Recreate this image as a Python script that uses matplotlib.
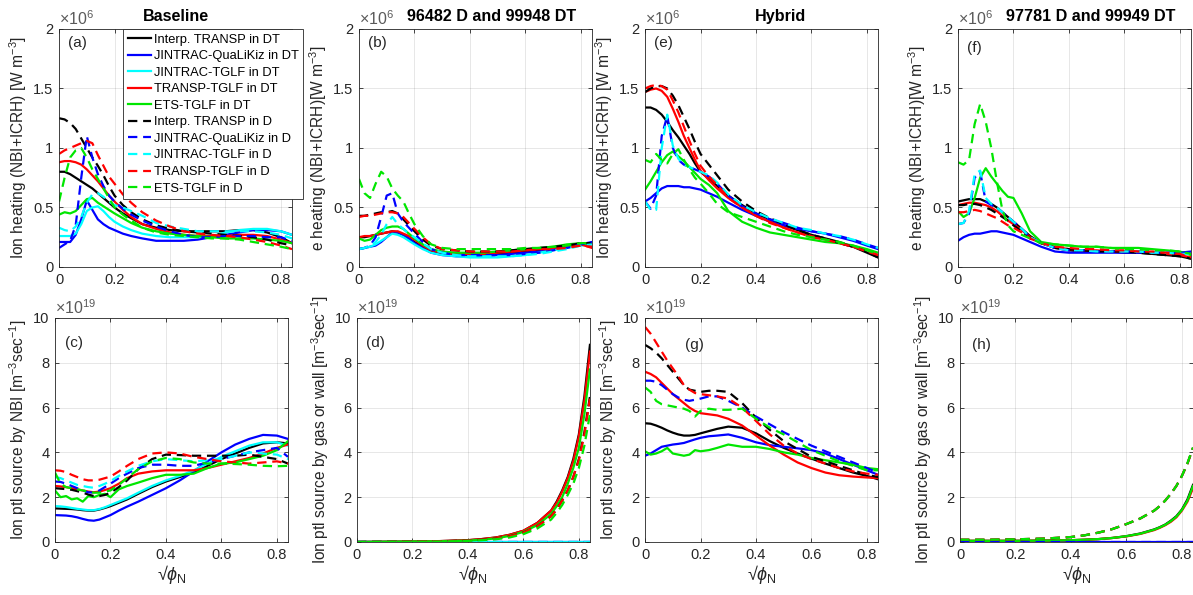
import numpy as np
import matplotlib
matplotlib.use("Agg")
import matplotlib.pyplot as plt
from matplotlib.ticker import FuncFormatter

plt.rcParams['font.family'] = ['Liberation Sans', 'DejaVu Sans']
plt.rcParams['mathtext.fontset'] = 'custom'
plt.rcParams['mathtext.rm'] = 'Liberation Sans'
plt.rcParams['mathtext.it'] = 'Liberation Sans:italic'

# ---------------- data ----------------
# common radial grid (sqrt(phi_N)) for profiles
X = [0, .02, .04, .06, .08, .10, .12, .14, .16, .18, .20, .23, .26, .30, .35,
     .40, .45, .50, .55, .60, .65, .70, .75, .80, .84]
# grid for edge sources (panels d, h)
XE = [0, .1, .2, .3, .4, .45, .5, .55, .6, .65, .7, .72, .74, .76, .78, .8, .82, .84]

labels = ["Interp. TRANSP in DT", "JINTRAC-QuaLiKiz in DT", "JINTRAC-TGLF in DT",
          "TRANSP-TGLF in DT", "ETS-TGLF in DT",
          "Interp. TRANSP in D", "JINTRAC-QuaLiKiz in D", "JINTRAC-TGLF in D",
          "TRANSP-TGLF in D", "ETS-TGLF in D"]

# (a) Baseline ion heating [1e6 W m^-3]
a_black_DT = [.80, .80, .78, .75, .72, .69, .66, .62, .58, .54, .50, .45, .41, .36, .33, .31, .30, .30, .30, .30, .31, .31, .29, .25, .20]
a_blue_DT = [.21, .21, .21, .27, .40, .56, .48, .40, .36, .33, .31, .28, .26, .24, .22, .22, .22, .23, .25, .27, .29, .31, .31, .30, .27]
a_cyan_DT = [.26, .26, .26, .28, .36, .47, .50, .51, .47, .42, .38, .34, .31, .28, .26, .25, .25, .25, .26, .29, .31, .32, .32, .30, .27]
a_red_DT = [.88, .89, .89, .88, .86, .82, .77, .72, .66, .60, .55, .48, .42, .36, .32, .29, .27, .26, .26, .26, .27, .27, .26, .23, .20]
a_green_DT = [.44, .46, .45, .47, .52, .57, .58, .54, .51, .48, .45, .41, .37, .33, .30, .28, .27, .26, .25, .24, .24, .24, .23, .22, .20]
a_black_D = [1.25, 1.24, 1.21, 1.16, 1.08, 1.00, .92, .85, .77, .68, .60, .52, .46, .40, .35, .32, .30, .29, .28, .27, .26, .25, .23, .20, .18]
a_blue_D = [.16, .19, .22, .35, .75, 1.10, .92, .78, .68, .60, .55, .49, .44, .39, .34, .30, .27, .25, .25, .26, .26, .26, .25, .25, .22]
a_cyan_D = [.33, .31, .30, .34, .42, .54, .61, .62, .59, .55, .52, .50, .47, .43, .37, .34, .32, .30, .30, .30, .30, .30, .29, .27, .24]
a_red_D = [.95, .98, 1.00, 1.02, 1.04, 1.06, 1.04, .94, .85, .76, .70, .61, .54, .46, .39, .34, .30, .28, .27, .26, .25, .23, .21, .18, .15]
a_green_D = [.55, .75, .92, .98, 1.00, .92, .82, .74, .66, .58, .50, .44, .39, .33, .29, .27, .26, .25, .24, .24, .23, .21, .19, .17, .15]

# (b) Baseline electron heating [1e6 W m^-3]
b_black_DT = [.25, .25, .26, .27, .28, .29, .30, .29, .27, .24, .21, .17, .13, .11, .10, .10, .10, .11, .12, .13, .14, .15, .17, .19, .19]
b_blue_DT = [.15, .16, .17, .18, .21, .25, .29, .29, .27, .24, .20, .16, .12, .10, .09, .09, .09, .10, .11, .12, .13, .15, .17, .19, .21]
b_cyan_DT = [.15, .16, .17, .19, .22, .25, .28, .27, .25, .22, .19, .15, .12, .10, .09, .08, .08, .08, .09, .10, .12, .14, .16, .18, .19]
b_red_DT = [.25, .26, .26, .27, .28, .29, .30, .30, .28, .26, .23, .18, .14, .12, .11, .11, .11, .12, .13, .14, .15, .16, .18, .19, .16]
b_green_DT = [.24, .22, .23, .27, .31, .33, .34, .34, .32, .28, .24, .19, .15, .13, .12, .12, .12, .13, .14, .15, .16, .17, .19, .20, .20]
b_black_D = [.43, .43, .44, .45, .46, .46, .47, .45, .40, .35, .30, .23, .18, .15, .14, .13, .13, .13, .14, .15, .16, .17, .18, .20, .20]
b_blue_D = [.15, .16, .18, .25, .42, .60, .62, .45, .38, .33, .28, .21, .15, .12, .10, .10, .10, .10, .10, .11, .12, .14, .16, .19, .21]
b_cyan_D = [.15, .16, .18, .21, .27, .36, .42, .36, .32, .28, .25, .20, .15, .12, .10, .09, .09, .09, .09, .10, .11, .13, .15, .18, .19]
b_red_D = [.42, .43, .43, .44, .45, .46, .46, .45, .42, .37, .32, .25, .19, .15, .14, .13, .13, .13, .13, .14, .15, .15, .16, .18, .17]
b_green_D = [.74, .62, .58, .70, .80, .76, .66, .60, .55, .45, .36, .26, .19, .16, .15, .15, .15, .15, .15, .16, .16, .17, .18, .20, .20]

# (e) Hybrid ion heating [1e6 W m^-3]
e_black_DT = [1.34, 1.34, 1.32, 1.28, 1.22, 1.15, 1.09, 1.02, .95, .87, .80, .74, .68, .60, .52, .45, .40, .35, .31, .27, .24, .21, .17, .12, .08]
e_blue_DT = [.55, .58, .62, .66, .68, .68, .68, .67, .67, .66, .65, .62, .59, .54, .48, .43, .38, .35, .32, .30, .28, .25, .22, .18, .15]
e_red_DT = [1.47, 1.49, 1.50, 1.48, 1.43, 1.33, 1.22, 1.10, 1.00, .90, .81, .73, .66, .58, .50, .43, .38, .33, .29, .26, .23, .20, .17, .14, .10]
e_green_DT = [.65, .72, .80, .88, .94, .97, .93, .89, .84, .79, .74, .69, .62, .47, .38, .33, .29, .27, .25, .23, .21, .20, .18, .15, .12]
e_black_D = [1.47, 1.50, 1.52, 1.52, 1.50, 1.44, 1.36, 1.26, 1.16, 1.05, .95, .86, .77, .65, .55, .47, .41, .36, .31, .27, .24, .20, .17, .13, .08]
e_blue_D = [.55, .49, .60, 1.10, 1.27, 1.00, .90, .86, .84, .82, .80, .76, .70, .60, .51, .45, .40, .37, .33, .30, .28, .26, .23, .19, .16]
e_cyan_D = [.55, .48, .48, 1.00, 1.28, 1.02, .91, .86, .84, .82, .80, .77, .71, .61, .52, .46, .41, .37, .33, .31, .28, .26, .23, .19, .16]
e_red_D = [1.50, 1.52, 1.53, 1.52, 1.49, 1.40, 1.30, 1.18, 1.06, .95, .85, .76, .69, .58, .50, .43, .37, .33, .29, .25, .23, .20, .17, .13, .10]
e_green_D = [.90, .88, .95, .90, .87, .95, .99, .90, .82, .75, .70, .62, .53, .46, .42, .38, .34, .30, .27, .25, .23, .21, .18, .14, .11]

# (f) Hybrid electron heating [1e6 W m^-3]
f_black_DT = [.55, .56, .57, .57, .57, .55, .53, .50, .46, .42, .38, .32, .26, .20, .16, .14, .13, .13, .13, .12, .12, .11, .10, .09, .07]
f_blue_DT = [.22, .25, .27, .28, .28, .29, .30, .30, .29, .28, .27, .24, .21, .17, .13, .12, .12, .12, .12, .12, .12, .12, .12, .12, .13]
f_red_DT = [.52, .53, .54, .54, .53, .52, .50, .47, .43, .39, .36, .31, .25, .20, .17, .15, .14, .14, .13, .13, .13, .12, .11, .10, .08]
f_green_DT = [.47, .42, .45, .58, .75, .83, .76, .70, .64, .59, .58, .45, .30, .21, .19, .18, .17, .17, .16, .16, .16, .15, .14, .13, .10]
f_black_D = [.52, .52, .53, .53, .52, .50, .48, .45, .42, .39, .35, .30, .24, .20, .16, .15, .14, .13, .13, .13, .12, .11, .10, .09, .07]
f_blue_D = [.36, .37, .45, .75, .80, .55, .52, .50, .46, .42, .38, .32, .25, .20, .16, .14, .14, .13, .13, .13, .13, .12, .12, .12, .12]
f_cyan_D = [.36, .37, .47, .78, .81, .58, .53, .50, .46, .42, .38, .32, .25, .20, .16, .14, .14, .13, .13, .13, .13, .12, .12, .11, .11]
f_red_D = [.46, .46, .47, .48, .47, .45, .43, .41, .38, .35, .33, .29, .24, .20, .17, .16, .15, .15, .14, .14, .13, .13, .12, .11, .08]
f_green_D = [.88, .86, .90, 1.20, 1.37, 1.22, 1.00, .72, .48, .35, .30, .27, .24, .20, .19, .18, .17, .17, .16, .15, .15, .14, .14, .13, .11]

# (c) Baseline NBI particle source [1e19 m^-3 s^-1]
c_black_DT = [1.50, 1.49, 1.48, 1.47, 1.45, 1.42, 1.40, 1.40, 1.45, 1.52, 1.60, 1.75, 1.90, 2.15, 2.45, 2.70, 2.90, 3.10, 3.40, 3.70, 3.95, 4.20, 4.40, 4.45, 4.40]
c_blue_DT = [1.20, 1.19, 1.18, 1.15, 1.10, 1.03, .97, .95, 1.00, 1.10, 1.20, 1.40, 1.58, 1.80, 2.10, 2.40, 2.75, 3.15, 3.60, 4.00, 4.35, 4.60, 4.78, 4.75, 4.60]
c_cyan_DT = [1.60, 1.59, 1.56, 1.52, 1.48, 1.45, 1.42, 1.42, 1.47, 1.55, 1.65, 1.80, 1.95, 2.20, 2.50, 2.75, 2.95, 3.20, 3.50, 3.80, 4.05, 4.30, 4.45, 4.45, 4.30]
c_red_DT = [2.50, 2.48, 2.45, 2.40, 2.35, 2.30, 2.25, 2.22, 2.25, 2.32, 2.40, 2.60, 2.85, 3.05, 3.15, 3.20, 3.20, 3.20, 3.30, 3.45, 3.60, 3.75, 3.95, 4.20, 4.35]
c_green_DT = [2.30, 2.00, 2.05, 1.90, 1.95, 1.80, 2.05, 2.00, 2.10, 2.15, 2.00, 2.35, 2.50, 2.65, 2.85, 3.00, 3.00, 3.05, 3.30, 3.50, 3.55, 3.70, 3.85, 4.10, 4.50]
c_black_D = [2.40, 2.38, 2.36, 2.33, 2.27, 2.20, 2.12, 2.05, 2.05, 2.10, 2.20, 2.45, 2.75, 3.25, 3.70, 3.90, 3.88, 3.85, 3.85, 3.85, 3.85, 3.90, 3.80, 3.70, 3.50]
c_blue_D = [2.70, 2.68, 2.60, 2.50, 2.40, 2.30, 2.22, 2.20, 2.30, 2.45, 2.60, 2.85, 3.05, 3.30, 3.45, 3.45, 3.40, 3.40, 3.55, 3.70, 3.85, 4.00, 4.10, 4.20, 3.80]
c_cyan_D = [2.90, 2.85, 2.75, 2.65, 2.55, 2.50, 2.45, 2.42, 2.50, 2.60, 2.72, 2.95, 3.15, 3.40, 3.60, 3.70, 3.65, 3.60, 3.65, 3.70, 3.85, 4.00, 3.95, 3.90, 3.70]
c_red_D = [3.20, 3.18, 3.12, 3.00, 2.90, 2.80, 2.75, 2.75, 2.78, 2.85, 2.92, 3.15, 3.40, 3.70, 3.95, 4.00, 3.95, 3.80, 3.70, 3.60, 3.55, 3.50, 3.55, 3.60, 3.50]
c_green_D = [3.10, 2.60, 2.45, 2.40, 2.35, 2.30, 2.25, 2.20, 2.20, 2.25, 2.30, 2.55, 2.85, 3.25, 3.60, 3.75, 3.70, 3.55, 3.50, 3.50, 3.48, 3.45, 3.40, 3.38, 3.40]

# (g) Hybrid NBI particle source [1e19 m^-3 s^-1]
g_black_DT = [5.30, 5.28, 5.20, 5.10, 4.98, 4.88, 4.80, 4.75, 4.75, 4.78, 4.85, 4.95, 5.05, 5.15, 5.10, 4.85, 4.50, 4.20, 3.95, 3.72, 3.50, 3.30, 3.10, 2.95, 2.80]
g_blue_DT = [3.85, 3.95, 4.10, 4.25, 4.30, 4.35, 4.38, 4.42, 4.50, 4.58, 4.65, 4.72, 4.75, 4.80, 4.65, 4.45, 4.32, 4.25, 4.18, 4.10, 3.95, 3.70, 3.45, 3.20, 3.00]
g_red_DT = [7.60, 7.50, 7.35, 7.10, 6.85, 6.60, 6.40, 6.20, 6.00, 5.85, 5.75, 5.70, 5.65, 5.50, 5.20, 4.75, 4.30, 3.90, 3.55, 3.30, 3.10, 2.98, 2.92, 2.88, 2.85]
g_green_DT = [4.05, 3.90, 3.95, 4.05, 4.20, 3.95, 3.90, 3.85, 3.90, 4.10, 4.05, 4.10, 4.20, 4.35, 4.25, 4.25, 4.15, 4.00, 3.90, 3.75, 3.65, 3.55, 3.45, 3.30, 3.25]
g_black_D = [8.80, 8.65, 8.45, 8.20, 7.90, 7.60, 7.30, 7.00, 6.80, 6.75, 6.70, 6.75, 6.75, 6.70, 6.20, 5.55, 5.00, 4.50, 4.15, 3.80, 3.60, 3.40, 3.20, 3.00, 2.90]
g_blue_D = [7.20, 7.20, 7.15, 7.00, 6.80, 6.60, 6.45, 6.35, 6.30, 6.35, 6.40, 6.50, 6.50, 6.30, 6.00, 5.60, 5.25, 4.90, 4.60, 4.30, 4.05, 3.80, 3.55, 3.30, 3.10]
g_red_D = [9.60, 9.30, 8.90, 8.50, 8.10, 7.75, 7.40, 7.00, 6.80, 6.65, 6.60, 6.55, 6.50, 6.40, 6.00, 5.40, 4.80, 4.30, 3.95, 3.70, 3.50, 3.30, 3.15, 3.05, 3.00]
g_green_D = [6.90, 6.70, 6.30, 6.15, 6.10, 6.05, 6.00, 5.95, 5.85, 5.60, 5.85, 5.95, 5.90, 5.90, 5.95, 5.50, 5.10, 4.80, 4.45, 4.10, 3.85, 3.60, 3.40, 3.20, 3.20]

# (d) Baseline gas/wall source [1e19 m^-3 s^-1]
d_black_DT = [0, .01, .02, .04, .08, .13, .20, .32, .50, .85, 1.40, 1.80, 2.30, 2.90, 3.70, 4.80, 6.50, 8.80]
d_blue_DT = [0] * 18
d_cyan_DT = [0] * 18
d_red_DT = [0, .01, .02, .04, .08, .13, .20, .32, .50, .85, 1.40, 1.75, 2.25, 2.85, 3.60, 4.70, 6.30, 8.50]
d_green_DT = [0, .01, .02, .03, .06, .10, .16, .27, .45, .75, 1.25, 1.60, 2.00, 2.60, 3.30, 4.20, 5.70, 7.70]
d_black_D = [0, .01, .02, .03, .06, .10, .15, .25, .42, .70, 1.15, 1.45, 1.85, 2.30, 2.90, 3.70, 4.90, 6.50]
d_blue_D = [0] * 18
d_cyan_D = [0] * 18
d_red_D = [0, .01, .02, .03, .06, .10, .15, .25, .42, .70, 1.15, 1.45, 1.85, 2.30, 2.90, 3.65, 4.80, 6.40]
d_green_D = [0, .01, .01, .02, .05, .08, .12, .20, .35, .60, 1.00, 1.30, 1.65, 2.10, 2.60, 3.30, 4.30, 5.70]

# (h) Hybrid gas/wall source [1e19 m^-3 s^-1]
h_black_DT = [.05, .05, .05, .06, .08, .10, .13, .18, .26, .38, .56, .66, .78, .95, 1.15, 1.45, 1.90, 2.55]
h_blue_DT = [0] * 18
h_red_DT = [.05, .05, .05, .06, .08, .10, .13, .18, .25, .36, .53, .63, .75, .90, 1.10, 1.40, 1.80, 2.40]
h_green_DT = [.05, .05, .05, .06, .08, .10, .13, .18, .26, .37, .55, .65, .77, .93, 1.13, 1.43, 1.85, 2.50]
h_black_D = [.10, .10, .12, .15, .22, .30, .42, .58, .80, 1.05, 1.40, 1.60, 1.85, 2.15, 2.50, 2.95, 3.50, 4.20]
h_blue_D = [0] * 18
h_red_D = [.10, .10, .12, .15, .22, .30, .42, .58, .80, 1.05, 1.40, 1.60, 1.85, 2.15, 2.50, 2.95, 3.50, 4.20]
h_green_D = [.10, .10, .12, .15, .22, .30, .42, .58, .80, 1.05, 1.40, 1.60, 1.85, 2.15, 2.50, 2.95, 3.52, 4.22]

# ---------------- style ----------------
COLORS = ['#000000', '#0000ff', '#00ffff', '#ff0000', '#00e600']
DASH = (0, (4.2, 2.6))
LW = 1.6
AXC = '#262626'

fig = plt.figure(figsize=(11.93, 5.95), dpi=100)

W = 0.1953
TOP_B, TOP_H = 0.5513, 0.400
BOT_B, BOT_H = 0.0891, 0.3765
pos = {
    'a': [0.0495, TOP_B, W, TOP_H], 'b': [0.3009, TOP_B, W, TOP_H],
    'e': [0.5407, TOP_B, W, TOP_H], 'f': [0.8030, TOP_B, W, TOP_H],
    'c': [0.0461, BOT_B, W, BOT_H], 'd': [0.2992, BOT_B, W, BOT_H],
    'g': [0.5407, BOT_B, W, BOT_H], 'h': [0.8047, BOT_B, W, BOT_H],
}

def fmt(v, p):
    return '%g' % v

def setup(ax, ylim, yticks, ylabel, exp, tag, tagpos, xlabel=False, title=None, title_x=0.5):
    ax.set_xlim(0, 0.84)
    ax.set_ylim(*ylim)
    ax.set_xticks([0, 0.2, 0.4, 0.6, 0.8])
    ax.set_yticks(yticks)
    ax.xaxis.set_major_formatter(FuncFormatter(fmt))
    ax.yaxis.set_major_formatter(FuncFormatter(fmt))
    ax.tick_params(direction='in', length=3, width=0.6, colors=AXC, labelsize=10.5,
                   top=True, right=True, pad=4)
    for sp in ax.spines.values():
        sp.set_color(AXC)
        sp.set_linewidth(0.6)
    ax.grid(True, color=AXC, alpha=0.13, lw=0.6)
    ax.set_axisbelow(True)
    ax.set_ylabel(ylabel, fontsize=11.2, color=AXC, labelpad=3)
    if xlabel:
        ax.set_xlabel('√' + r'$\phi_{\rm N}$', fontsize=13, color=AXC, labelpad=1)
    ax.text(0.0, 1.003, r'$\times10^{%d}$' % exp, transform=ax.transAxes,
            fontsize=11.5, color='#5a5a5a', ha='left', va='bottom')
    ax.text(tagpos[0], tagpos[1], tag, transform=ax.transAxes, fontsize=11,
            color=AXC, ha='center', va='center')
    if title:
        ax.set_title(title, fontsize=11.6, fontweight='bold', x=title_x, pad=6)

def draw(ax, x, series):
    handles = []
    for i, y in enumerate(series):
        col = COLORS[i % 5]
        ls = '-' if i < 5 else DASH
        if y is None:
            h, = ax.plot([], [], color=col, lw=LW, linestyle=ls)
        else:
            h, = ax.plot(x, y, color=col, lw=LW, linestyle=ls)
        handles.append(h)
    return handles

axes = {k: fig.add_axes(v) for k, v in pos.items()}

ha = draw(axes['a'], X, [a_black_DT, a_blue_DT, a_cyan_DT, a_red_DT, a_green_DT,
                         a_black_D, a_blue_D, a_cyan_D, a_red_D, a_green_D])
draw(axes['b'], X, [b_black_DT, b_blue_DT, b_cyan_DT, b_red_DT, b_green_DT,
                    b_black_D, b_blue_D, b_cyan_D, b_red_D, b_green_D])
draw(axes['e'], X, [e_black_DT, e_blue_DT, None, e_red_DT, e_green_DT,
                    e_black_D, e_blue_D, e_cyan_D, e_red_D, e_green_D])
draw(axes['f'], X, [f_black_DT, f_blue_DT, None, f_red_DT, f_green_DT,
                    f_black_D, f_blue_D, f_cyan_D, f_red_D, f_green_D])
draw(axes['c'], X, [c_black_DT, c_blue_DT, c_cyan_DT, c_red_DT, c_green_DT,
                    c_black_D, c_blue_D, c_cyan_D, c_red_D, c_green_D])
draw(axes['d'], XE, [d_black_DT, d_blue_DT, d_cyan_DT, d_red_DT, d_green_DT,
                     d_black_D, d_blue_D, d_cyan_D, d_red_D, d_green_D])
draw(axes['g'], X, [g_black_DT, g_blue_DT, None, g_red_DT, g_green_DT,
                    g_black_D, g_blue_D, None, g_red_D, g_green_D])
draw(axes['h'], XE, [h_black_DT, h_blue_DT, None, h_red_DT, h_green_DT,
                     h_black_D, h_blue_D, None, h_red_D, h_green_D])

HEAT_T = [0, 0.5, 1, 1.5, 2]
SRC_T = [0, 2, 4, 6, 8, 10]
ion_h = r'Ion heating (NBI+ICRH) [W m$^{-3}$]'
e_h = r'e heating (NBI+ICRH)[W m$^{-3}$]'
nbi = r'Ion ptl source by NBI [m$^{-3}$sec$^{-1}$]'
gas = r'Ion ptl source by gas or wall [m$^{-3}$sec$^{-1}$]'

setup(axes['a'], (0, 2), HEAT_T, ion_h, 6, '(a)', (0.08, 0.94), title='Baseline', title_x=0.5)
setup(axes['b'], (0, 2), HEAT_T, e_h, 6, '(b)', (0.08, 0.94), title='96482 D and 99948 DT', title_x=0.57)
setup(axes['e'], (0, 2), HEAT_T, ion_h, 6, '(e)', (0.08, 0.94), title='Hybrid', title_x=0.58)
setup(axes['f'], (0, 2), HEAT_T, e_h, 6, '(f)', (0.07, 0.92), title='97781 D and 99949 DT', title_x=0.57)
setup(axes['c'], (0, 10), SRC_T, nbi, 19, '(c)', (0.08, 0.89), xlabel=True)
setup(axes['d'], (0, 10), SRC_T, gas, 19, '(d)', (0.08, 0.89), xlabel=True)
setup(axes['g'], (0, 10), SRC_T, nbi, 19, '(g)', (0.21, 0.88), xlabel=True)
setup(axes['h'], (0, 10), SRC_T, gas, 19, '(h)', (0.09, 0.88), xlabel=True)

leg = fig.legend(ha, labels, loc='upper left',
                 bbox_to_anchor=(123 / 1193, 1 - 29 / 595),
                 fontsize=9.3, frameon=True, fancybox=False, framealpha=1,
                 edgecolor=AXC, handlelength=1.8, handletextpad=0.25,
                 labelspacing=0.35, borderpad=0.35, borderaxespad=0.0)
leg.get_frame().set_linewidth(0.6)

fig.savefig('out.png', dpi=100)
